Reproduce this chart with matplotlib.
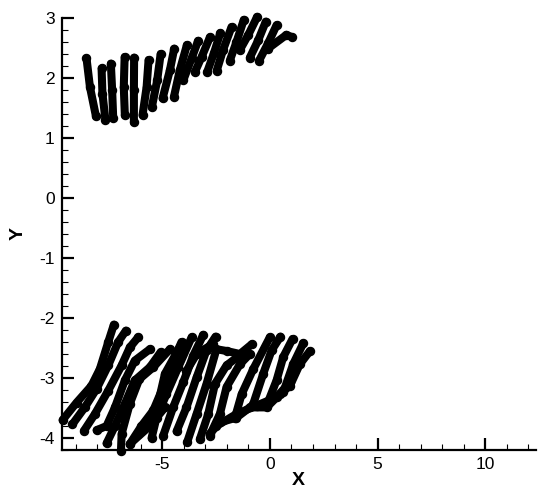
import matplotlib
matplotlib.use('Agg')
import matplotlib.pyplot as plt
from matplotlib.ticker import MultipleLocator

plt.rcParams['font.family'] = ['Liberation Sans', 'DejaVu Sans']
plt.rcParams['axes.unicode_minus'] = False

# upper group, one (x, y) pair of lists per strand
upper_x = [
    [-8.51, -8.35, -8.07], [-7.81, -7.77, -7.63], [-7.38, -7.32, -7.27],
    [-6.74, -6.78, -6.73], [-6.30, -6.31, -6.31], [-5.63, -5.72, -5.91],
    [-5.07, -5.23, -5.48], [-4.44, -4.64, -4.98], [-3.85, -4.18, -4.45],
    [-3.33, -3.63, -4.02], [-2.78, -3.17, -3.48], [-2.30, -2.60, -2.91],
    [-1.78, -2.17, -2.47], [-1.21, -1.55, -1.86], [-0.59, -1.00, -1.39],
    [-0.19, -0.54, -0.93], [0.31, -0.08, -0.50], [-0.09, 0.77, 1.03],
]
upper_y = [
    [2.33, 1.85, 1.36], [2.16, 1.74, 1.30], [2.24, 1.80, 1.33],
    [2.35, 1.85, 1.38], [2.34, 1.80, 1.26], [2.30, 1.85, 1.38],
    [2.40, 1.96, 1.51], [2.49, 2.13, 1.66], [2.55, 2.13, 1.69],
    [2.62, 2.33, 1.96], [2.68, 2.35, 2.10], [2.75, 2.41, 2.10],
    [2.85, 2.47, 2.12], [2.97, 2.60, 2.29], [3.02, 2.72, 2.47],
    [2.94, 2.63, 2.34], [2.88, 2.58, 2.29], [2.49, 2.72, 2.68],
]

# lower group
lower_x = [
    [-9.62, -8.97, -8.28, -7.89, -7.50, -7.24],
    [-9.16, -8.59, -8.04, -7.50, -7.04, -6.68],
    [-8.63, -8.12, -7.50, -6.88, -6.50, -6.11],
    [-8.04, -7.58, -7.19, -6.73, -6.27, -5.57],
    [-7.58, -7.19, -6.73, -6.27, -5.57, -5.07],
    [-6.91, -6.88, -6.50, -6.06, -5.41, -4.64],
    [-6.50, -5.96, -5.41, -4.95, -4.49, -4.10],
    [-6.50, -5.57, -4.87],
    [-6.11, -5.26, -4.87, -4.10],
    [-5.49, -5.26, -4.80, -4.25, -3.63],
    [-4.95, -4.49, -4.02, -3.56, -3.09],
    [-4.33, -3.87, -3.40, -2.94, -2.52],
    [-3.87, -3.40, -2.63],
    [-3.84, -3.40, -2.94, -2.48, -2.01, -1.39, -0.85],
    [-3.25, -2.86, -2.55, -2.01, -1.32],
    [-2.79, -2.32, -2.01, -1.39, -0.93],
    [-2.79, -2.32, -1.55, -0.93, -0.15, 0.46, 0.93, 1.39, 1.86],
    [-2.48, -1.55, -0.62, 0.31, 0.93],
    [-1.62, -1.31, -0.77, 0.00],
    [-0.77, -0.31, 0.08, 0.49],
    [-0.15, 0.31, 0.62, 1.05],
    [0.62, 1.08, 1.55],
]
lower_y = [
    [-3.70, -3.41, -3.13, -2.85, -2.40, -2.11],
    [-3.77, -3.49, -3.18, -2.79, -2.40, -2.21],
    [-3.88, -3.60, -3.21, -2.79, -2.49, -2.32],
    [-3.87, -3.80, -3.49, -3.04, -2.71, -2.52],
    [-4.09, -3.80, -3.43, -3.04, -2.82, -2.57],
    [-4.21, -3.93, -3.43, -3.02, -2.82, -2.52],
    [-4.10, -3.80, -3.54, -3.15, -2.71, -2.40],
    [-4.10, -3.80, -3.49],
    [-3.93, -3.54, -2.93, -2.43],
    [-4.00, -3.66, -3.27, -2.82, -2.32],
    [-3.96, -3.49, -3.07, -2.63, -2.28],
    [-3.89, -3.49, -2.99, -2.54, -2.31],
    [-2.88, -2.60, -2.43],
    [-4.07, -3.60, -3.10, -2.52, -2.55, -2.60, -2.44],
    [-4.02, -3.60, -3.10, -2.79, -2.60],
    [-3.96, -3.60, -3.15, -2.77, -2.60],
    [-3.93, -3.74, -3.66, -3.49, -3.49, -3.27, -3.13, -2.77, -2.55],
    [-3.80, -3.60, -3.46, -3.32, -3.07],
    [-3.66, -3.27, -2.85, -2.32],
    [-3.43, -2.93, -2.54, -2.31],
    [-3.46, -3.04, -2.65, -2.35],
    [-3.24, -2.77, -2.42],
]

fig = plt.figure(figsize=(5.5, 5.01), dpi=100)
ax = fig.add_axes([61.5 / 550, 51 / 501, 474.5 / 550, 432 / 501])

for xs, ys in zip(upper_x + lower_x, upper_y + lower_y):
    ax.plot(xs, ys, color='black', lw=5.8, marker='o', ms=5.8,
            solid_capstyle='round', solid_joinstyle='round',
            clip_on=False, zorder=3)

ax.set_xlim(-9.67, 12.35)
ax.set_ylim(-4.2, 3)

ax.xaxis.set_major_locator(MultipleLocator(5))
ax.xaxis.set_minor_locator(MultipleLocator(1))
ax.yaxis.set_major_locator(MultipleLocator(1))
ax.yaxis.set_minor_locator(MultipleLocator(0.2))

ax.tick_params(which='major', direction='in', length=8.5, width=1.6,
               labelsize=12.5, pad=5)
ax.tick_params(which='minor', direction='in', length=4.5, width=0.8)

ax.spines['top'].set_visible(False)
ax.spines['right'].set_visible(False)
ax.spines['left'].set_linewidth(1.6)
ax.spines['bottom'].set_linewidth(1.6)

ax.set_xlabel('X', fontsize=14, fontweight='bold', labelpad=0)
ax.set_ylabel('Y', fontsize=14, fontweight='bold', labelpad=9)

plt.savefig('out.png', dpi=100)
